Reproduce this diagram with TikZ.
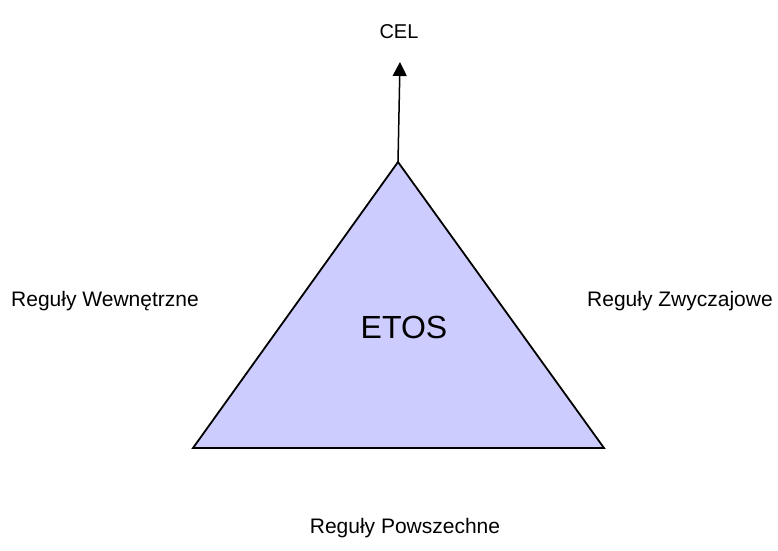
\documentclass[tikz,border=0pt]{standalone}
\usepackage{fontspec}
\setmainfont{Liberation Sans}
\usetikzlibrary{arrows.meta}
\definecolor{etosfill}{RGB}{204,204,255}
\begin{document}
\begin{tikzpicture}[x=1pt,y=-1pt,
  side/.style={font=\fontsize{21}{24}\selectfont, inner sep=0pt},
  edge/.style={draw=black, line width=1.8pt, line join=miter}]
\useasboundingbox (0,0) rectangle (778,550);
% triangle corners
\coordinate (apex) at (398,162);
\coordinate (bl) at (193,448);
\coordinate (br) at (604,448);
\fill[etosfill] (apex) -- (bl) -- (br) -- cycle;
\draw[edge] (apex) -- (bl) -- (br) -- cycle;
\node[font=\fontsize{32}{36}\selectfont, inner sep=0pt] (etos) at (404,327) {ETOS};
% goal arrow
\node[side, font=\fontsize{20}{24}\selectfont] (cel) at (399,32) {CEL};
\coordinate (tip) at (400,62);
\draw[line width=1.5pt, -{Triangle[length=14pt,width=14pt]}] (apex) -- (tip);
% rule labels
\node[side] (wew) at (105,301) {Reguły Wewnętrzne};
\node[side] (zwy) at (680,301) {Reguły Zwyczajowe};
\node[side] (pow) at (405,528) {Reguły Powszechne};
\end{tikzpicture}
\end{document}
